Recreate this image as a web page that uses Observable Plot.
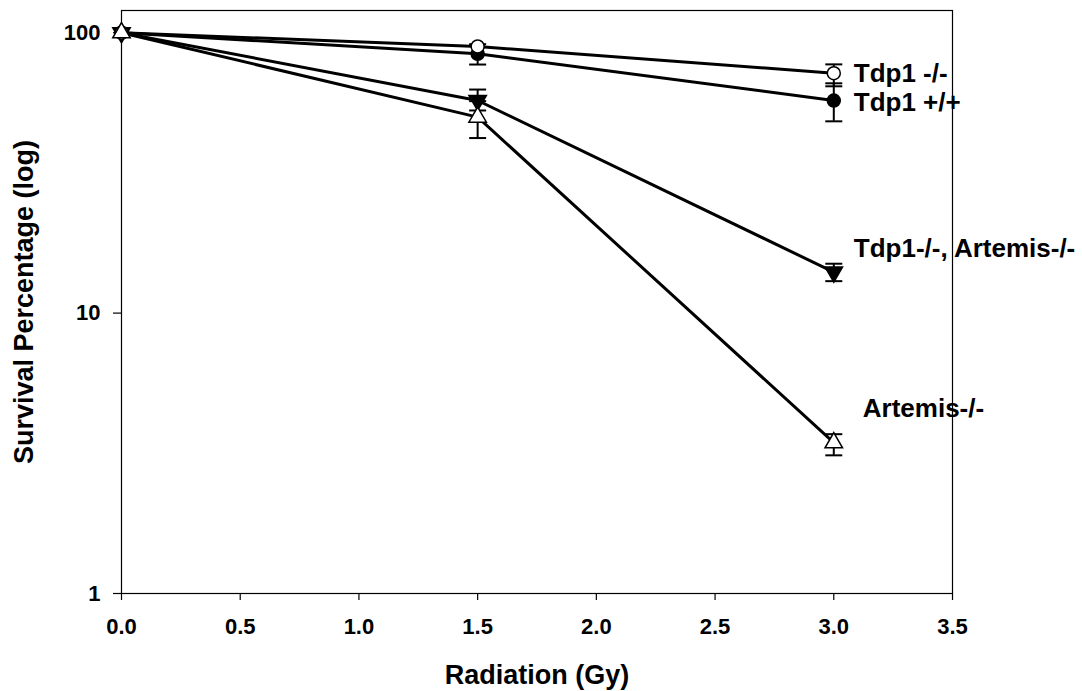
<!DOCTYPE html>
<html>
<head>
<meta charset="utf-8">
<script src="https://cdn.jsdelivr.net/npm/d3@7"></script>
<script src="https://cdn.jsdelivr.net/npm/@observablehq/plot@0.6"></script>
<style>
  html, body { margin: 0; padding: 0; background: #fff; }
  svg { font-family: "Liberation Sans", Arial, sans-serif; }
</style>
</head>
<body>
<div id="chart"></div>
<script>
// ---- data ----
const doses = [0, 1.5, 3.0];
const seriesNames = ["Tdp1 -/-", "Tdp1 +/+", "Tdp1-/-, Artemis-/-", "Artemis-/-"];
const tdp1KO      = [100, 89.3, 71.7];
const tdp1KOLo    = [100, 89.3, 64.4];
const tdp1KOHi    = [100, 89.3, 77.1];
const tdp1WT      = [100, 84.1, 57.3];
const tdp1WTLo    = [100, 77.0, 48.3];
const tdp1WTHi    = [100, 91.0, 66.0];
const doubleKO    = [100, 57.3, 14.0];
const doubleKOLo  = [100, 52.8, 13.0];
const doubleKOHi  = [100, 62.7, 15.0];
const artemisKO   = [100, 50.0, 3.45];
const artemisKOLo = [100, 42.1, 3.11];
const artemisKOHi = [100, 57.0, 3.70];
const labelValues = [71.7, 56.5, 17.0, 4.55];
const xTicks = [0, 0.5, 1.0, 1.5, 2.0, 2.5, 3.0, 3.5];
const yTicks = [1, 10, 100];

const groups = [
  {name: seriesNames[0], y: tdp1KO,    lo: tdp1KOLo,    hi: tdp1KOHi},
  {name: seriesNames[1], y: tdp1WT,    lo: tdp1WTLo,    hi: tdp1WTHi},
  {name: seriesNames[2], y: doubleKO,  lo: doubleKOLo,  hi: doubleKOHi},
  {name: seriesNames[3], y: artemisKO, lo: artemisKOLo, hi: artemisKOHi}
];
const rows = groups.flatMap(g => doses.map((x, i) => ({series: g.name, x, y: g.y[i], lo: g.lo[i], hi: g.hi[i]})));
const errRows = rows.filter(d => d.hi > d.lo);
const bySeries = name => rows.filter(d => d.series === name);

const labels = seriesNames.map((name, i) => ({name, x: doses[2], y: labelValues[i]}));

const capSymbol = {
  draw(context, size) {
    const w = Math.sqrt(size / Math.PI);
    context.moveTo(-w, 0);
    context.lineTo(w, 0);
  }
};

const font = {fontSize: 22, fontWeight: "bold"};

const chart = Plot.plot({
  width: 1082,
  height: 691,
  marginLeft: 121,
  marginRight: 130,
  marginTop: 10,
  marginBottom: 98,
  x: {domain: [0, 3.5]},
  y: {type: "log", domain: [1, 120]},
  marks: [
    Plot.frame({stroke: "black", strokeWidth: 1.2}),
    Plot.axisX({ticks: xTicks, tickFormat: d3.format(".1f"), tickSize: 7, tickPadding: 18, label: null, ...font, strokeWidth: 1.2}),
    Plot.axisY({ticks: yTicks, tickFormat: d => String(d), tickSize: 8, tickPadding: 13, label: null, ...font, strokeWidth: 1.2}),
    Plot.line(rows, {x: "x", y: "y", z: "series", stroke: "black", strokeWidth: 3}),
    Plot.ruleX(errRows, {x: "x", y1: "lo", y2: "hi", stroke: "black", strokeWidth: 2}),
    Plot.dot(errRows, {x: "x", y: "lo", symbol: capSymbol, r: 8.5, stroke: "black", strokeWidth: 2, fill: "none"}),
    Plot.dot(errRows, {x: "x", y: "hi", symbol: capSymbol, r: 8.5, stroke: "black", strokeWidth: 2, fill: "none"}),
    Plot.dot(bySeries(seriesNames[1]), {x: "x", y: "y", symbol: "circle", r: 6.5, fill: "black", stroke: "black", strokeWidth: 1.5}),
    Plot.dot(bySeries(seriesNames[2]), {x: "x", y: "y", symbol: "triangle", r: 6.5, rotate: 180, fill: "black", stroke: "black", strokeWidth: 1.5}),
    Plot.dot(bySeries(seriesNames[0]), {x: "x", y: "y", symbol: "circle", r: 6.5, fill: "white", stroke: "black", strokeWidth: 1.5}),
    Plot.dot(bySeries(seriesNames[3]), {x: "x", y: "y", symbol: "triangle", r: 6.5, fill: "white", stroke: "black", strokeWidth: 1.5}),
    Plot.text(labels.slice(0, 3), {x: "x", y: "y", text: "name", dx: 20, textAnchor: "start", lineAnchor: "middle", fontSize: 26, fontWeight: "bold", fill: "black"}),
    Plot.text(labels.slice(3), {x: "x", y: "y", text: "name", dx: 29, textAnchor: "start", lineAnchor: "middle", fontSize: 26, fontWeight: "bold", fill: "black"}),
    Plot.text(["Radiation (Gy)"], {frameAnchor: "bottom", dy: 82, text: d => d, textAnchor: "middle", lineAnchor: "middle", fontSize: 27, fontWeight: "bold", fill: "black"}),
    Plot.text(["Survival Percentage (log)"], {frameAnchor: "left", dx: -97, rotate: -90, text: d => d, textAnchor: "middle", lineAnchor: "middle", fontSize: 27, fontWeight: "bold", fill: "black"})
  ]
});
document.getElementById("chart").appendChild(chart);
</script>
</body>
</html>
